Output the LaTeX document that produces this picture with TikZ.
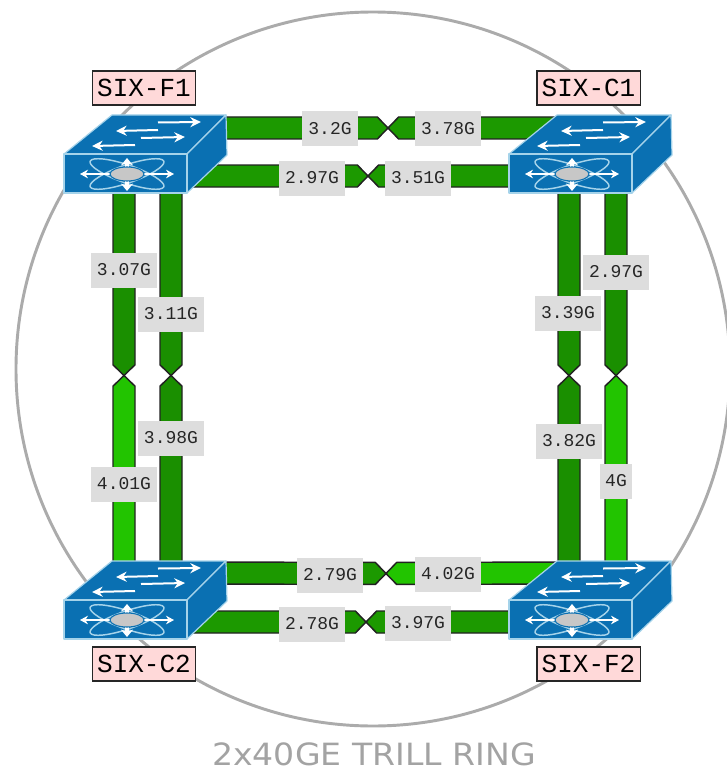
\documentclass[tikz,border=0pt]{standalone}
\usepackage{fontspec}
\setmainfont{DejaVu Sans}
\setmonofont{Liberation Mono}
\newfontfamily\titlefont[FakeStretch=1.08]{DejaVu Sans}
\usetikzlibrary{calc,arrows.meta}
\definecolor{ringgrey}{HTML}{ABABAB}
\definecolor{titlegrey}{HTML}{A3A3A3}
\definecolor{labelgrey}{HTML}{DDDDDD}
\definecolor{namepink}{HTML}{FFD9D9}
\definecolor{swblue}{HTML}{0A70B2}
\definecolor{swedge}{HTML}{A5D3EA}
\definecolor{gmid}{HTML}{1C9900}
\definecolor{gdark}{HTML}{1A8F00}
\definecolor{gbright}{HTML}{22C400}
\definecolor{linkedge}{HTML}{222222}
\tikzset{
  x=0.75pt,y=-0.75pt,
  linkshape/.style={draw=linkedge,line width=1.1pt,line join=bevel},
  ratelabel/.style={fill=labelgrey,font=\ttfamily\fontsize{13.5}{14}\selectfont,inner sep=0pt,minimum height=26.25pt,minimum width=49pt,text=black!85},
  namelabel/.style={draw=black!85,line width=1pt,fill=namepink,font=\ttfamily\fontsize{19.5}{20}\selectfont,inner sep=0pt,minimum height=25.5pt,minimum width=77.5pt,text=black},
  swanchor/.style={inner sep=0pt,minimum width=122pt,minimum height=58pt},
  facearrow/.style={draw=white,line width=1.5pt,-{Stealth[length=8pt,width=7.5pt]}},
  hubarrow/.style={draw=white,line width=1.1pt,-{Stealth[length=6pt,width=6.5pt]}},
  bigarrow/.style={draw=white,line width=3pt,-{Stealth[length=5.5pt,width=9pt]}},
  swicon/.pic={
    \begin{scope}[shift={(-145,-154)}]
      \filldraw[fill=swblue,draw=swedge,line width=.9pt,line join=round] (64,154) -- (112,115) -- (226,115) -- (187,154) -- cycle;
      \filldraw[fill=swblue,draw=swedge,line width=.9pt,line join=round] (187,154) -- (226,115) -- (227,155) -- (187,193) -- cycle;
      \filldraw[fill=swblue,draw=swedge,line width=.9pt,line join=round] (64,154) rectangle (187,193);
      \draw[facearrow] (158,122.5) -- (201,122);
      \draw[facearrow] (158,130) -- (116,131);
      \draw[facearrow] (141,138) -- (185,137);
      \draw[facearrow] (135,145) -- (92,146);
      \draw[swedge,line width=1.1pt,rotate around={19:(127,174)}] (127,174) ellipse (39 and 9);
      \draw[swedge,line width=1.1pt,rotate around={-19:(127,174)}] (127,174) ellipse (39 and 9);
      \draw[hubarrow] (110,174) -- (80,174);
      \draw[hubarrow] (143,174) -- (174,174);
      \draw[bigarrow] (127,172) -- (127,158);
      \draw[bigarrow] (127,176) -- (127,191);
      \filldraw[fill=black!22,draw=swblue,line width=.8pt] (127,174) ellipse (17 and 7);
    \end{scope}
  }
}
\newcommand{\lnk}[3]{%
  \coordinate (neck) at ($(#2)!8pt!(#1)$);
  \filldraw[linkshape,fill=#3]
    ($(#1)!8.25pt!90:(#2)$) -- ($(neck)!8.25pt!90:(#2)$) -- (#2)
    -- ($(neck)!8.25pt!-90:(#2)$) -- ($(#1)!8.25pt!-90:(#2)$) -- cycle;
}
\begin{document}
\begin{tikzpicture}
\useasboundingbox (0,0) rectangle (727,770);
\begin{scope}
  \clip (0,0) rectangle (727,770);
  \draw[ringgrey,line width=2.2pt] (373,369) circle [radius=357];
\end{scope}
% switch anchors
\node[swanchor] (F1) at (145,154) {};
\node[swanchor] (C1) at (590,154) {};
\node[swanchor] (C2) at (145,600) {};
\node[swanchor] (F2) at (590,600) {};
% crossing points
\coordinate (tTA) at (388,128);
\coordinate (tTB) at (368,176);
\coordinate (tBA) at (386,573.5);
\coordinate (tBB) at (366,622);
\coordinate (tLA) at (124,375.5);
\coordinate (tLB) at (171,375.5);
\coordinate (tRA) at (569,375.5);
\coordinate (tRB) at (616,375.5);
% port points on the switches
\coordinate (F1e) at ($(F1)+(55,-26)$);
\coordinate (F1f) at ($(F1)+(45,22)$);
\coordinate (C1e) at ($(C1)+(-10,-26)$);
\coordinate (C1f) at ($(C1)+(-45,22)$);
\coordinate (C2e) at ($(C2)+(55,-27)$);
\coordinate (C2f) at ($(C2)+(45,22)$);
\coordinate (F2e) at ($(F2)+(-10,-27)$);
\coordinate (F2f) at ($(F2)+(-45,22)$);
\coordinate (F1s) at ($(F1)+(-21,20)$);
\coordinate (F1t) at ($(F1)+(26,20)$);
\coordinate (C2n) at ($(C2)+(-21,-20)$);
\coordinate (C2m) at ($(C2)+(26,-20)$);
\coordinate (C1s) at ($(C1)+(-21,20)$);
\coordinate (C1t) at ($(C1)+(26,20)$);
\coordinate (F2n) at ($(F2)+(-21,-20)$);
\coordinate (F2m) at ($(F2)+(26,-20)$);
% links
\lnk{F1e}{tTA}{gmid}
\lnk{C1e}{tTA}{gmid}
\lnk{F1f}{tTB}{gmid}
\lnk{C1f}{tTB}{gmid}
\lnk{C2e}{tBA}{gmid}
\lnk{F2e}{tBA}{gbright}
\lnk{C2f}{tBB}{gmid}
\lnk{F2f}{tBB}{gmid}
\lnk{F1s}{tLA}{gdark}
\lnk{C2n}{tLA}{gbright}
\lnk{F1t}{tLB}{gdark}
\lnk{C2m}{tLB}{gdark}
\lnk{C1s}{tRA}{gdark}
\lnk{F2n}{tRA}{gdark}
\lnk{C1t}{tRB}{gdark}
\lnk{F2m}{tRB}{gbright}
% rate labels
\node[ratelabel,minimum width=42pt] (r1) at (330,129) {3.2G};
\node[ratelabel] (r2) at (448,129) {3.78G};
\node[ratelabel] (r3) at (312,178) {2.97G};
\node[ratelabel] (r4) at (418,178) {3.51G};
\node[ratelabel] (r5) at (124,270) {3.07G};
\node[ratelabel] (r6) at (171,314) {3.11G};
\node[ratelabel] (r7) at (171,438) {3.98G};
\node[ratelabel] (r8) at (124,484) {4.01G};
\node[ratelabel] (r9) at (568,313) {3.39G};
\node[ratelabel] (r10) at (616,272) {2.97G};
\node[ratelabel] (r11) at (569,441) {3.82G};
\node[ratelabel,minimum width=24pt] (r12) at (616,481) {4G};
\node[ratelabel] (r13) at (330,575) {2.79G};
\node[ratelabel] (r14) at (448,574) {4.02G};
\node[ratelabel] (r15) at (312,624) {2.78G};
\node[ratelabel] (r16) at (418,623) {3.97G};
% switches
\pic at (F1) {swicon};
\pic at (C1) {swicon};
\pic at (C2) {swicon};
\pic at (F2) {swicon};
% names
\node[namelabel] (nF1) at (144,88) {SIX-F1};
\node[namelabel] (nC1) at (588.5,88) {SIX-C1};
\node[namelabel] (nC2) at (144,664) {SIX-C2};
\node[namelabel] (nF2) at (588.5,664) {SIX-F2};
\node[text=titlegrey,font=\titlefont\fontsize{23}{24}\selectfont,inner sep=0pt] (title) at (374,754.5) {2x40GE TRILL RING};
\end{tikzpicture}
\end{document}
